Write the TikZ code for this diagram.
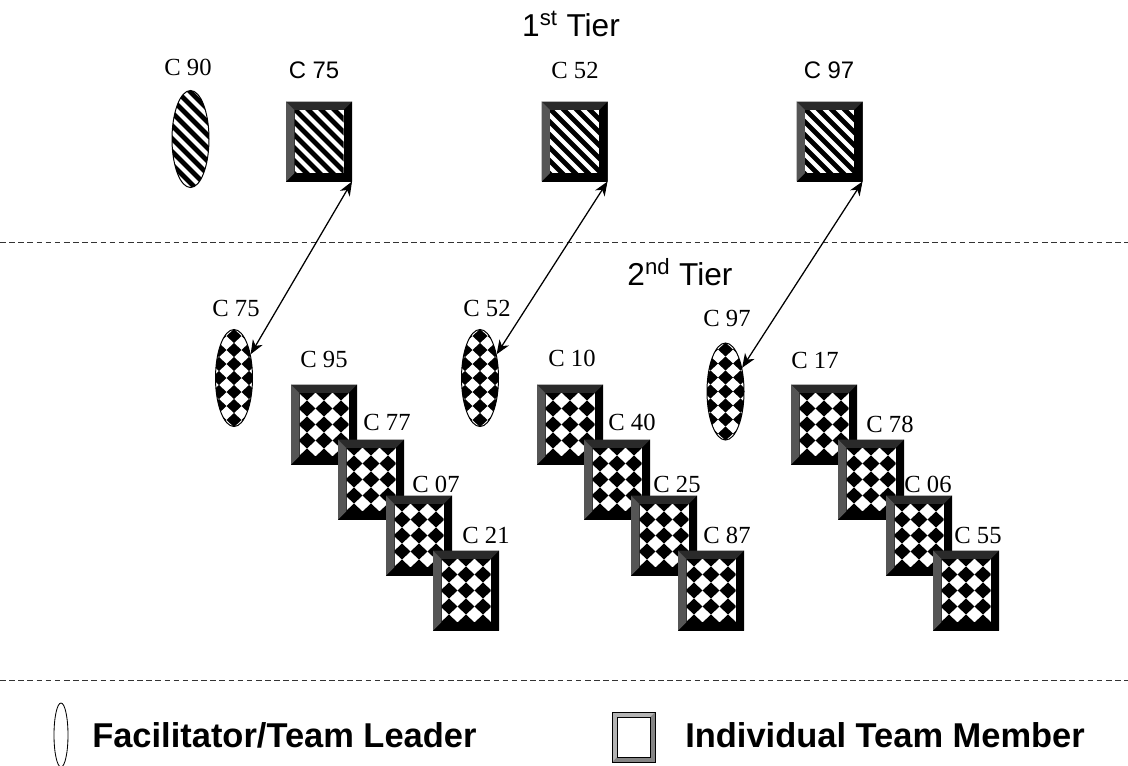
\documentclass[tikz,border=0pt]{standalone}
\usepackage{fontspec}
\setmainfont{Liberation Serif}
\setsansfont{Liberation Sans}
\usetikzlibrary{shapes.geometric,arrows.meta}
\definecolor{Bevel}{HTML}{555555}
\definecolor{BevelTop}{HTML}{2A2A2A}
\definecolor{KeyBevel}{HTML}{B4B4B4}
\definecolor{KeyShade}{HTML}{858585}
\definecolor{Rule}{HTML}{333333}

% bevelled rim round the origin: half width, half height, rim, left/top/right/bottom colour
\newcommand\bevelrim[7]{%
  \fill[#7] (-#1,-#2) rectangle (#1,#2);
  \fill[#6] (#1,-#2) -- (#1,#2) -- (#1-#3,#2-#3) -- (#1-#3,-#2+#3) -- cycle;
  \fill[#5] (-#1,-#2) -- (#1,-#2) -- (#1-#3,-#2+#3) -- (-#1+#3,-#2+#3) -- cycle;
  \fill[#4] (-#1,-#2) -- (-#1,#2) -- (-#1+#3,#2-#3) -- (-#1+#3,-#2+#3) -- cycle;
  \fill[white] (-#1+#3,-#2+#3) rectangle (#1-#3,#2-#3);}
% thick diagonal bands
\newcommand\stripes{\foreach \s in {-156,-143,...,45} \draw[line width=3.4pt] (\s,-60) -- ++(120,120);}
% diamond chequer, column and row step
\newcommand\checker[2]{\foreach \i in {-3,...,3} \foreach \j in {-4,...,4}
  \fill (\i*#1,\j*#2) +(-0.5*#1,0) -- +(0,-0.5*#2) -- +(0.5*#1,0) -- +(0,0.5*#2) -- cycle;}

\begin{document}
\begin{tikzpicture}[x=0.025cm,y=-0.025cm,
  rim/.style={minimum width=1.65cm,minimum height=2cm,inner sep=0pt,outer sep=0pt,
    path picture={\begin{scope}[shift={(path picture bounding box.center)}]
      \bevelrim{33}{40}{8.5}{Bevel}{BevelTop}{black}{black}
      \clip (-24.5,-31.5) rectangle (24.5,31.5); #1\end{scope}}},
  senior/.style={rim=\stripes},
  member/.style={rim={\checker{17}{16}}},
  leader/.style={ellipse,draw,line width=0.7pt,minimum width=0.925cm,minimum height=2.425cm,inner sep=0pt,
    path picture={\begin{scope}[shift={(path picture bounding box.center)}]#1\end{scope}}},
  keybox/.style={minimum width=1.075cm,minimum height=1.25cm,inner sep=0pt,draw,line width=0.5pt,
    path picture={\begin{scope}[shift={(path picture bounding box.center)}]
      \bevelrim{21.5}{25}{5}{KeyBevel}{KeyBevel}{KeyShade}{KeyShade}
      \draw[line width=0.4pt] (-16.5,-20) rectangle (16.5,20);\end{scope}}},
  tag/.style={font=\fontsize{17.5}{20}\selectfont,inner sep=0pt},
  stag/.style={font=\sffamily\fontsize{17}{20}\selectfont,inner sep=0pt},
  tier/.style={font=\sffamily\fontsize{22.5}{26}\selectfont,inner sep=0pt},
  key/.style={font=\sffamily\bfseries\fontsize{24.5}{28}\selectfont,inner sep=0pt,anchor=base west},
  rule/.style={draw=Rule,line width=0.6pt,dash pattern=on 4pt off 2.5pt},
  link/.style={>={Stealth[length=10pt,width=8pt,inset=3pt]},<->,line width=0.9pt}]
\useasboundingbox[fill=white] (0,0) rectangle (1128,765);

% first tier
\node[tier] (tier1) at (571,24) {1\textsuperscript{st} Tier};
\node[leader=\stripes] (lead90) at (190.5,139) {};
\node[tag] (tag90) at (188,67) {C 90};
\node[senior] (top75) at (319,141.5) {};
\node[stag] (tagtop75) at (314,70) {C 75};
\node[senior] (top52) at (574.5,141.5) {};
\node[tag] (tagtop52) at (575,70) {C 52};
\node[senior] (top97) at (829.5,141.5) {};
\node[stag] (tagtop97) at (829,70) {C 97};

\draw[rule] (0,242) -- (1128,242);

% second tier
\node[tier] (tier2) at (680,272) {2\textsuperscript{nd} Tier};
\node[leader={\checker{15}{14}}] (lead75) at (234,378) {};
\node[tag] (taglead75) at (236,308) {C 75};
\node[leader={\checker{15}{14}}] (lead52) at (480,378) {};
\node[tag] (taglead52) at (487,308) {C 52};
\node[leader={\checker{15}{14}}] (lead97) at (725.5,391.5) {};
\node[tag] (taglead97) at (727,318) {C 97};

\foreach \n/\x/\y/\lx/\ly in {95/324/424.5/324/359, 77/371/479.5/387/422, 07/419/535.5/436/484, 21/466/590.5/486/535,
  10/570/424.5/572/358, 40/617/479.5/632/422, 25/664/535.5/677/484, 87/711/590.5/727/535,
  17/824/424.5/815/360, 78/871/479.5/890/424, 06/919/535.5/928/484, 55/966/590.5/978/535}{
  \node[member] (m\n) at (\x,\y) {};
  \node[tag] (tag\n) at (\lx,\ly) {C \n};
}

\draw[link] (lead75.55) -- (top75.south east);
\draw[link] (lead52.55) -- (top52.south east);
\draw[link] (lead97.55) -- (top97.south east);

\draw[rule] (0,680) -- (1128,680);

% key
\node[ellipse,draw,line width=0.6pt,minimum width=0.35cm,minimum height=1.6cm,inner sep=0pt] (keylead) at (61,735) {};
\node[key] (keyleadtxt) at (92,747) {Facilitator/Team Leader};
\node[keybox] (keymember) at (633.5,737) {};
\node[key] (keymembertxt) at (685,747) {Individual Team Member};
\end{tikzpicture}
\end{document}
